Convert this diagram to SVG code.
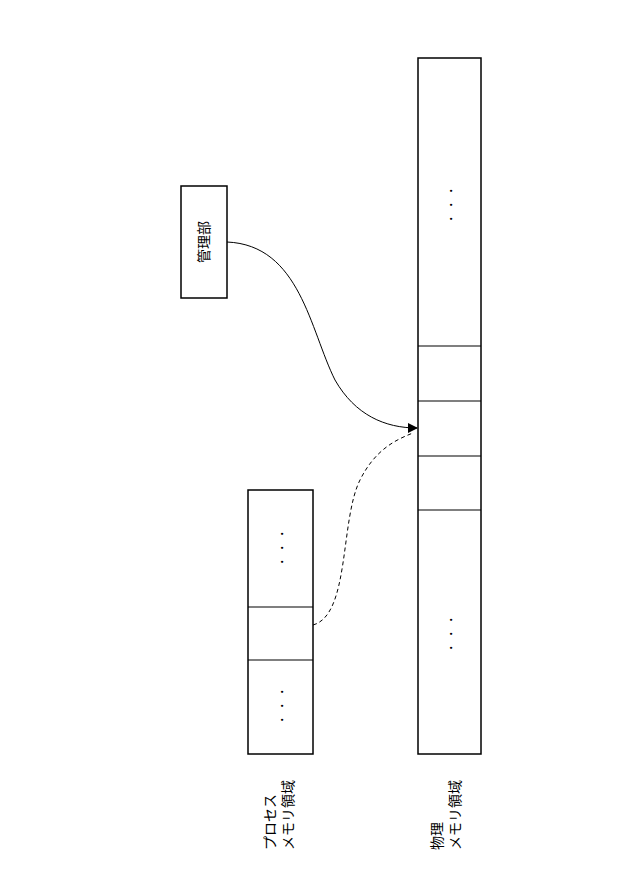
<svg xmlns="http://www.w3.org/2000/svg" width="622" height="882" viewBox="0 0 622 882">
<style>
.b{fill:#fff;stroke:#000;stroke-width:1.5}
.l{stroke:#000;stroke-width:1.2}
.t{font-family:"Noto Sans CJK JP","Liberation Sans",sans-serif;font-size:14px;fill:#000}
.d{font-family:"Liberation Sans",sans-serif;font-size:14px;fill:#000}
</style>
<defs><marker id="a" markerWidth="10" markerHeight="10" refX="9" refY="5" orient="auto" markerUnits="userSpaceOnUse"><path d="M0,0L10,5L0,10z" fill="#000"/></marker></defs>
<rect width="622" height="882" fill="#fff"/>
<g id="mgr"><rect class="b" x="181" y="186" width="46" height="112"/>
<text class="t" transform="translate(209,242) rotate(-90)" text-anchor="middle">管理部</text></g>
<g id="proc"><rect class="b" x="248" y="490" width="65" height="264"/>
<line class="l" x1="248" y1="607" x2="313" y2="607"/><line class="l" x1="248" y1="660" x2="313" y2="660"/>
<text class="d" transform="translate(287,548) rotate(-90)" text-anchor="middle">・・・</text>
<text class="d" transform="translate(287,706) rotate(-90)" text-anchor="middle">・・・</text>
<text class="t" transform="translate(275,850) rotate(-90)">プロセス</text>
<text class="t" transform="translate(293,850) rotate(-90)">メモリ領域</text></g>
<g id="phys"><rect class="b" x="418" y="58" width="63" height="696"/>
<line class="l" x1="418" y1="346" x2="481" y2="346"/><line class="l" x1="418" y1="401" x2="481" y2="401"/>
<line class="l" x1="418" y1="456" x2="481" y2="456"/><line class="l" x1="418" y1="510" x2="481" y2="510"/>
<text class="d" transform="translate(456,205) rotate(-90)" text-anchor="middle">・・・</text>
<text class="d" transform="translate(456,634) rotate(-90)" text-anchor="middle">・・・</text>
<text class="t" transform="translate(442,850) rotate(-90)">物理</text>
<text class="t" transform="translate(460,850) rotate(-90)">メモリ領域</text></g>
<g id="edges" fill="none" stroke="#000" stroke-width="1">
<path d="M227,242C300,245 310,330 335,380C355,415 385,428 417,428" marker-end="url(#a)"/>
<path d="M313,625C350,615 340,520 360,480C375,450 395,440 413,433" stroke-dasharray="4,3"/>
</g>
</svg>
